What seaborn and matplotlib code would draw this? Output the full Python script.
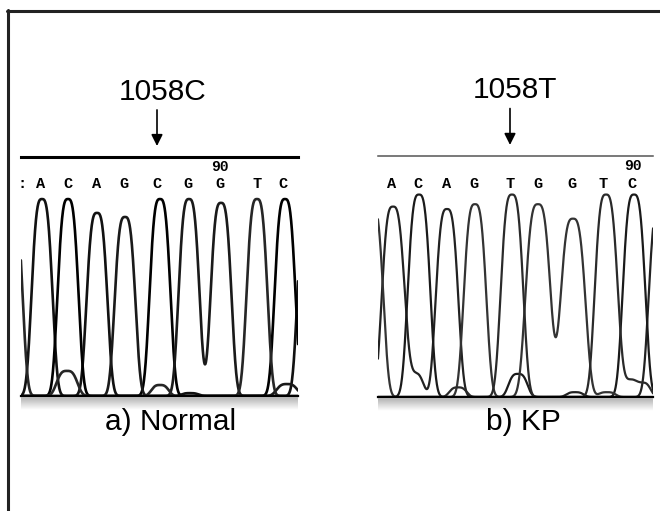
import numpy as np
import pandas as pd
import seaborn as sns
import matplotlib.pyplot as plt
from matplotlib.lines import Line2D
from matplotlib import transforms

sns.set_theme(style="white")
plt.rcParams['font.family'] = ['Liberation Sans', 'DejaVu Sans']
plt.rcParams['text.color'] = 'black'

# ---- panel a) Normal ----
a_calls = [':', 'A', 'C', 'A', 'G', 'C', 'G', 'G', 'T', 'C']
a_call_pos = [1, 20, 47, 76, 103, 136, 167, 199, 236, 262]
a_peak_base = ['T', 'A', 'C', 'A', 'G', 'C', 'G', 'G', 'T', 'C', 'A',
               'T', 'T', 'A', 'G']
a_peak_pos = [-9, 21, 47, 76, 104, 139, 168, 200, 236, 264, 287,
              46, 139, 169, 266]
a_peak_height = [830, 824, 824, 766, 749, 824, 824, 808, 824, 824, 820,
                 105, 46, 12, 50]
a_peak_width = [12, 12, 12, 12, 12, 12, 12, 12, 12, 12, 12,
                12, 10, 10, 12]

# ---- panel b) KP ----
b_calls = ['A', 'C', 'A', 'G', 'T', 'G', 'G', 'T', 'C']
b_call_pos = [14, 40, 69, 96, 132, 160, 194, 225, 254]
b_peak_base = ['G', 'A', 'C', 'A', 'G', 'T', 'G', 'G', 'T', 'C', 'A',
               'A', 'T', 'C', 'A', 'G', 'T', 'T']
b_peak_pos = [-6, 15, 41, 69, 97, 134, 160, 195, 228, 256, 282,
              36, 80, 140, 197, 229, 247, 264]
b_peak_height = [800, 790, 840, 780, 800, 840, 800, 740, 840, 840, 800,
                 100, 40, 96, 20, 20, 70, 60]
b_peak_width = [13, 13, 13, 13, 13, 13, 14.5, 14.5, 13, 13, 13,
                11, 10, 11, 10, 10, 10, 10]

PEAK_SHAPE = 3.2
FIG_W, FIG_H = 660, 511


def fig_box(left, top, right, bottom):
    return [left / FIG_W, (FIG_H - bottom) / FIG_H,
            (right - left) / FIG_W, (bottom - top) / FIG_H]


def build_traces(bases, pos, height, width, x0, x1):
    scan = np.linspace(x0, x1, 1500)
    rows = []
    for base in 'ACGT':
        sig = np.zeros_like(scan)
        for b, p, h, w in zip(bases, pos, height, width):
            if b == base:
                sig += h * np.exp(-np.abs((scan - p) / w) ** PEAK_SHAPE)
        rows.append(pd.DataFrame({'scan': scan, 'signal': sig, 'base': base}))
    return pd.concat(rows, ignore_index=True)


fig = plt.figure(figsize=(6.6, 5.11), dpi=100)

panels = [
    dict(box=(21, 157, 298, 396), calls=a_calls, call_pos=a_call_pos,
         bases=a_peak_base, pos=a_peak_pos, height=a_peak_height, width=a_peak_width,
         xmax=277, mark=136, label='1058C', label_xy=(163, 92),
         caption='a) Normal', cap_xy=(171, 422), num_pos=199,
         top_lw=2.2, top_col='black', lw=1.9,
         pal={'A': '#111111', 'C': '#000000', 'G': '#1a1a1a', 'T': '#262626'}),
    dict(box=(378, 156, 653, 397), calls=b_calls, call_pos=b_call_pos,
         bases=b_peak_base, pos=b_peak_pos, height=b_peak_height, width=b_peak_width,
         xmax=275, mark=132, label='1058T', label_xy=(515, 90),
         caption='b) KP', cap_xy=(523, 422), num_pos=255,
         top_lw=1.1, top_col='#555555', lw=1.6,
         pal={'A': '#222222', 'C': '#1a1a1a', 'G': '#333333', 'T': '#2a2a2a'}),
]

for p in panels:
    l, t, r, btm = p['box']
    ax = fig.add_axes(fig_box(l, t, r, btm))
    df = build_traces(p['bases'], p['pos'], p['height'], p['width'], -25, p['xmax'] + 25)
    sns.lineplot(data=df, x='scan', y='signal', hue='base', palette=p['pal'],
                 estimator=None, legend=False, linewidth=p['lw'], ax=ax)
    ax.set_xlim(0, p['xmax'])
    ax.set_ylim(0, 1000)
    ax.set_xticks([])
    ax.set_yticks([])
    ax.set_xlabel('')
    ax.set_ylabel('')
    ax.set_facecolor('white')
    for side in ['left', 'right']:
        ax.spines[side].set_visible(False)
    ax.spines['bottom'].set_color('black')
    ax.spines['bottom'].set_linewidth(1.6)
    ax.spines['top'].set_color(p['top_col'])
    ax.spines['top'].set_linewidth(p['top_lw'])

    trans = transforms.blended_transform_factory(ax.transData, ax.transAxes)
    for c, x in zip(p['calls'], p['call_pos']):
        ax.text(x, 0.885, c, transform=trans, ha='center', va='center',
                fontsize=11, fontweight='bold', family='Liberation Mono')
    ax.text(p['num_pos'], 0.958, '90', transform=trans, ha='center', va='center',
            fontsize=10.5, fontweight='bold', family='Liberation Mono')
    ax.annotate('', xy=(p['mark'], 1.046), xycoords=trans,
                xytext=(p['mark'], 1.197), textcoords=trans,
                arrowprops=dict(arrowstyle='-|>', color='black', lw=1.2,
                                mutation_scale=17, shrinkA=0, shrinkB=0))

    # grey shading under the baseline
    band = fig.add_axes(fig_box(l, btm + 1, r, btm + 14))
    grad = np.linspace(0.70, 1.0, 40).reshape(-1, 1)
    band.imshow(grad, aspect='auto', cmap='gray', vmin=0, vmax=1)
    band.axis('off')

    fig.text(p['label_xy'][0] / FIG_W, 1 - p['label_xy'][1] / FIG_H, p['label'],
             ha='center', va='center', fontsize=21.5)
    fig.text(p['cap_xy'][0] / FIG_W, 1 - p['cap_xy'][1] / FIG_H, p['caption'],
             ha='center', va='center', fontsize=21.5)

# outer frame (left and top only)
fig.add_artist(Line2D([8 / FIG_W, 8 / FIG_W], [0, 1 - 10 / FIG_H],
                      transform=fig.transFigure, color='#222222', lw=2.2))
fig.add_artist(Line2D([7 / FIG_W, 1], [1 - 11 / FIG_H, 1 - 11 / FIG_H],
                      transform=fig.transFigure, color='#222222', lw=2.2))

fig.savefig('out.png', dpi=100, facecolor='white')
